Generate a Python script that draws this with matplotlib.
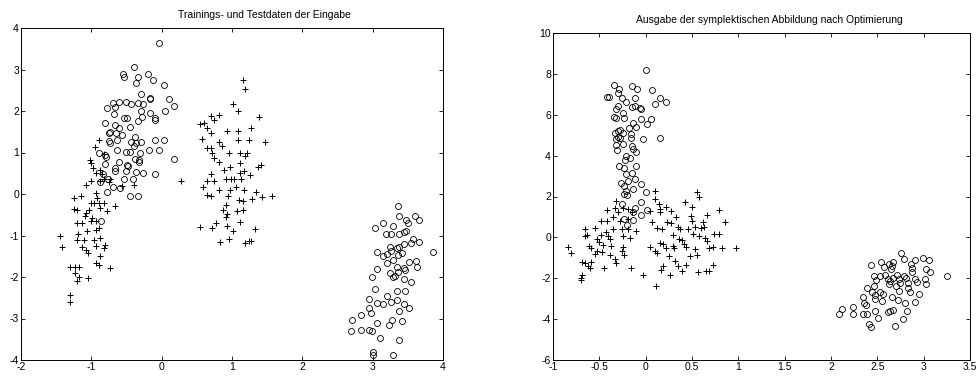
import matplotlib
matplotlib.use("Agg")
import matplotlib.pyplot as plt
import numpy as np

plt.rcParams['font.family'] = ['Liberation Sans', 'DejaVu Sans']
plt.rcParams['axes.unicode_minus'] = False

# left panel: input data, circles
in_circ_x = [-0.04, -0.40, -0.55, -0.53, -0.19, -0.13, -0.34, -0.36, 0.03, 0.11, 0.18, 0.05,
             -0.30, -0.16, -0.17, -0.69, -0.60, -0.50, -0.43, -0.34, -0.27, -0.78, -0.66,
             -0.10, -0.10, -0.16, -0.53, -0.49, -0.68, -0.30, -0.28, -0.34, -0.80, -0.66, -0.60, -0.45,
             -0.73, -0.75, -0.65, -0.57, -0.38, -0.43, -0.36, -0.29, -0.39, -0.09, 0.03, -0.75, -0.63, -0.73,
             -0.89, -0.64, -0.51, -0.45, -0.31, -0.18, -0.04, -0.81, -0.79, 0.18, -0.38, -0.32, -0.32,
             -0.61, -0.49, -0.48, -0.80, -0.66, -0.67, -0.51, -0.36, -0.26, -0.09, -0.83, -0.77, -0.54, -0.41,
             -0.69, -0.59, -0.78, -0.45, -0.34, -0.87, -0.86,
             3.36, 3.60, 3.66, 3.38, 3.48, 3.50, 3.04, 3.15, 3.29, 3.19, 3.26, 3.38, 3.45, 3.48,
             3.58, 3.66, 3.54, 3.45, 3.86, 3.24, 3.26, 3.35, 3.38, 3.06, 3.15, 3.20, 3.36, 3.41, 3.29,
             3.20, 3.61, 3.51, 3.34, 3.45, 3.63, 3.06, 3.36, 3.46, 3.24, 3.29, 3.32, 2.99, 3.45, 3.55,
             3.04, 3.20, 3.35, 3.46, 2.95, 3.06, 3.15, 3.26, 3.35, 3.45, 3.51, 2.95, 2.98, 3.38,
             2.83, 2.71, 3.06, 3.23, 3.27, 3.41, 2.69, 2.84, 2.95, 2.99, 3.11, 3.38, 3.00, 3.01, 3.29]
in_circ_y = [3.64, 3.05, 2.89, 2.83, 2.88, 2.75, 2.81, 2.67, 2.62, 2.29, 2.13, 2.00,
             2.41, 2.32, 2.29, 2.20, 2.22, 2.22, 2.17, 2.19, 2.17, 2.08, 2.10,
             1.79, 1.84, 1.95, 1.83, 1.82, 1.93, 1.99, 1.86, 1.77, 1.71, 1.67, 1.59, 1.61,
             1.49, 1.47, 1.47, 1.43, 1.38, 1.25, 1.23, 1.25, 1.15, 1.31, 1.29, 1.27, 1.29, 1.22,
             1.00, 1.06, 1.01, 1.02, 1.00, 1.05, 1.05, 0.95, 0.89, 0.85, 0.85, 0.81, 0.76,
             0.77, 0.69, 0.67, 0.72, 0.62, 0.55, 0.56, 0.53, 0.50, 0.49, 0.49, 0.35, 0.37, 0.37,
             0.16, 0.14, 0.04, -0.04, -0.04, 0.30, -0.65,
             -0.30, -0.54, -0.62, -0.54, -0.62, -0.69, -0.82, -0.69, -0.76, -0.96, -0.96, -0.96, -0.92, -0.88,
             -1.08, -1.16, -1.18, -1.20, -1.40, -1.27, -1.37, -1.31, -1.27, -1.40, -1.50, -1.44, -1.46, -1.42, -1.58,
             -1.66, -1.61, -1.63, -1.75, -1.79, -1.77, -1.81, -1.87, -1.84, -1.90, -2.01, -1.97, -2.01, -2.05, -2.13,
             -2.29, -2.45, -2.33, -2.33, -2.54, -2.62, -2.66, -2.60, -2.56, -2.64, -2.75, -2.75, -2.86, -2.82,
             -2.91, -3.03, -3.10, -3.15, -3.03, -3.07, -3.30, -3.27, -3.27, -3.31, -3.48, -3.53, -3.80, -3.88, -3.88]

# left panel: input data, plus markers
in_plus_x = [-1.44, -1.42, -1.30, -1.31, -1.30, -1.23, -1.17, -1.23, -1.20, -1.18, -1.05,
             -1.24, -1.15, -1.24, -1.21, -1.20, -1.13, -1.19, -1.21, -1.13, -1.08, -1.05, -1.10, -1.06,
             -1.08, -1.04, -1.01, -1.09, -1.07, -1.01, -0.94, -0.92, -0.96, -0.89, -0.99, -0.94, -1.01,
             -0.94, -0.89, -0.96, -0.88, -0.94, -0.87, -0.94, -0.89, -0.82, -0.80, -0.87, -0.82, -0.78,
             -0.73, -0.67, -1.02, -1.01, -0.95, -0.89, -0.97, -0.94, -0.87, -0.88, -0.82, -0.85, -0.75,
             -0.73, -0.82, -0.56, -0.40, 0.27,
             1.15, 1.18, 1.02, 1.09, 0.55, 0.60, 0.70, 0.75, 0.81, 1.39, 0.64, 0.70, 0.93, 1.09, 1.27,
             0.57, 0.81, 1.09, 1.24, 1.47, 0.64, 0.70, 0.86, 0.96, 0.72, 0.74, 0.81, 1.11, 1.22,
             1.18, 1.11, 1.41, 1.37, 0.89, 0.97, 1.11, 1.17, 1.25, 0.70, 0.91, 0.98, 1.03, 1.13,
             0.64, 0.74, 0.59, 0.81, 0.97, 1.06, 1.17, 0.64, 0.70, 0.95, 1.34, 1.10, 1.15, 1.28, 1.42, 1.57,
             0.91, 0.87, 1.07, 1.16, 0.93, 0.91, 0.55, 0.72, 0.77, 0.93, 1.12, 1.02, 1.33,
             0.83, 0.96, 1.18, 1.24, 1.27]
in_plus_y = [-1.00, -1.28, -2.43, -2.61, -1.75, -1.75, -1.75, -1.90, -2.09, -1.99, -2.03,
             -0.10, -0.04, -0.36, -0.39, -0.70, -0.70, -0.97, -1.10, -1.28, -1.36, -1.42, -1.10, -0.90,
             -0.45, -0.38, -0.22, -0.53, 0.22, 0.31, 0.02, -0.10, -0.22, -0.22, -0.58, -0.66, -0.66,
             -0.86, -0.82, -1.10, -1.06, -1.26, -1.50, -1.66, -1.72, -1.31, -1.22, -0.34, -0.22, -0.42,
             -1.78, -0.30, 0.83, 0.75, 1.14, 1.30, 0.63, 0.51, 0.59, 0.31, 0.96, 0.49, 0.28,
             0.37, 0.35, 0.20, 0.22, 0.32,
             2.75, 2.54, 2.18, 2.00, 1.69, 1.72, 1.87, 1.79, 1.91, 1.85, 1.59, 1.47, 1.51, 1.53, 1.59,
             1.32, 1.26, 1.29, 1.30, 1.25, 1.12, 1.11, 1.16, 0.98, 0.98, 0.86, 0.77, 0.98, 0.98,
             0.92, 0.74, 0.70, 0.64, 0.58, 0.66, 0.50, 0.55, 0.46, 0.49, 0.35, 0.35, 0.35, 0.35,
             0.31, 0.31, 0.18, 0.10, 0.10, 0.17, 0.09, -0.02, -0.06, -0.04, 0.04, -0.14, -0.17, -0.11, -0.08, -0.06,
             -0.26, -0.38, -0.42, -0.39, -0.48, -0.56, -0.80, -0.81, -0.71, -0.77, -0.67, -0.90, -0.84,
             -1.16, -1.08, -1.18, -1.13, -1.13]

# right panel: output of the symplectic map, circles
out_circ_x = [0.00, -0.34, -0.15, -0.09, -0.29, 0.07, -0.30, -0.42, -0.40, -0.25, -0.12, 0.15,
              0.22, 0.10, -0.21, -0.06, -0.05, -0.30, -0.32, -0.24, -0.15, -0.12,
              -0.34, -0.32, -0.23, -0.05, 0.06, -0.14, -0.10, 0.01, -0.18,
              -0.30, -0.28, -0.33, -0.24, -0.16, -0.30, -0.28, -0.16, 0.15, -0.03,
              -0.32, -0.24, -0.15, -0.14, -0.10, -0.32, -0.31,
              -0.21, -0.17, -0.22, -0.29, -0.10, -0.23, -0.15, -0.21, -0.12, -0.27, -0.19, -0.05,
              -0.23, -0.14, 0.00, -0.21, -0.23, -0.20, -0.05, 0.01, -0.26, -0.12, -0.14, -0.05,
              -0.23, -0.14, -0.20,
              2.09, 2.12, 2.24, 2.24, 2.35, 2.39, 2.41, 2.43, 2.48, 2.51,
              2.35, 2.36, 2.38, 2.39, 2.44, 2.43, 2.46, 2.46, 2.47, 2.48,
              2.54, 2.57, 2.53, 2.56, 2.55, 2.58, 2.61, 2.63, 2.66,
              2.63, 2.66, 2.67, 2.65, 2.62, 2.64, 2.67, 2.69,
              2.71, 2.73, 2.75, 2.73, 2.72, 2.76, 2.79, 2.79, 2.81, 2.83,
              2.83, 2.85, 2.80, 2.78, 2.82, 2.86, 2.87, 2.87, 2.91,
              2.91, 2.93, 2.95, 2.91, 2.99, 3.02, 3.01, 3.02, 3.06, 3.07,
              3.25, 2.64, 2.70, 2.67, 2.53, 2.49]
out_circ_y = [8.21, 7.45, 7.40, 7.28, 7.27, 7.19, 7.07, 6.86, 6.86, 6.80, 6.83, 6.83,
              6.63, 6.54, 6.63, 6.33, 6.30, 6.42, 6.26, 6.10, 6.37, 6.42,
              5.90, 5.84, 5.82, 5.81, 5.81, 5.58, 5.41, 5.53, 5.33,
              5.20, 5.24, 5.09, 5.12, 5.04, 4.91, 4.88, 4.88, 4.88, 4.80,
              4.80, 4.55, 4.47, 4.31, 4.18, 4.52, 4.28,
              3.98, 3.90, 3.77, 3.50, 3.50, 3.41, 3.17, 3.09, 2.85, 2.68, 2.76, 2.60,
              2.52, 2.36, 2.20, 2.28, 2.12, 2.07, 1.71, 1.35, 1.63, 1.46, 1.22, 1.09,
              0.89, 0.86, 0.60,
              -3.77, -3.50, -3.41, -3.74, -3.74, -3.74, -4.23, -4.39, -3.58, -3.95,
              -2.93, -3.20, -3.30, -2.49, -2.68, -1.33, -1.87, -2.36, -2.81, -3.01,
              -1.19, -1.43, -2.68, -2.76, -3.09, -1.82, -2.03, -2.26, -2.93,
              -1.30, -1.38, -1.22, -1.54, -3.66, -3.61, -3.54, -4.36,
              -1.82, -2.03, -2.23, -2.63, -3.06, -0.76, -1.06, -1.87, -2.00, -2.24,
              -2.49, -2.68, -3.20, -3.98, -3.58, -1.30, -1.51, -1.71, -1.09,
              -2.04, -2.20, -2.76, -3.18, -1.02, -1.54, -2.03, -2.28, -1.11, -1.67,
              -1.90, -2.14, -2.38, -1.98, -1.87, -2.07]

# right panel: output of the symplectic map, plus markers
out_plus_x = [-0.84, -0.81, -0.70, -0.70, -0.69, -0.65, -0.63, -0.65, -0.55,
              -0.69, -0.65, -0.62, -0.59, -0.60, -0.61, -0.59, -0.53, -0.55,
              -0.52, -0.50, -0.46, -0.47, -0.45, -0.48, -0.43, -0.48, -0.42, -0.42,
              -0.41, -0.39, -0.37, -0.39, -0.33, -0.32, -0.35, -0.35, -0.32, -0.33, -0.30,
              -0.28, -0.26, -0.24, -0.24, -0.23, -0.26, -0.24, -0.19, -0.15, -0.19, -0.19,
              -0.17, -0.16, -0.10, -0.03, 0.10, 0.11,
              0.05, 0.10, 0.14, 0.16, 0.16, 0.05, 0.10, 0.12, 0.15, 0.07,
              0.12, 0.18, 0.22, 0.27, 0.23, 0.27, 0.33, 0.35, 0.37,
              0.19, 0.22, 0.25, 0.30, 0.31, 0.19, 0.17, 0.26,
              0.30, 0.36, 0.39, 0.41, 0.32, 0.35, 0.39, 0.44,
              0.42, 0.50, 0.49, 0.50, 0.55, 0.58, 0.46, 0.51, 0.53, 0.44, 0.48,
              0.53, 0.55, 0.57, 0.58, 0.60, 0.62, 0.66, 0.63,
              0.64, 0.66, 0.65, 0.68, 0.68, 0.74, 0.73, 0.82, 0.73,
              0.79, 0.86, 0.79, 0.97]
out_plus_y = [-0.46, -0.77, -2.00, -2.08, -1.85, 0.41, 0.13, 0.08, 0.44,
              -1.22, -1.27, -1.41, -1.22, -1.51, -0.41, -0.54, -0.66, -0.81,
              -0.08, -0.24, -0.37, -0.73, -1.51, 0.13, 0.24, 0.81, 0.81, 1.33,
              0.08, -0.08, -0.41, -0.86, -1.06, -1.27, 0.98, 0.41, 1.79, 1.46, 1.22,
              0.81, 0.41, 0.08, -0.49, -0.86, -0.65, 1.46, 1.37, 1.22, 0.89, 0.41,
              -0.05, -1.51, 0.33, -1.84, 2.26, -2.39,
              1.30, 1.87, 1.63, 1.41, 1.22, -0.49, -0.68, -0.77, -0.29, 0.76,
              0.44, 0.41, 1.51, 1.30, 0.76, 0.68, 0.98, 0.49, 0.41,
              -0.33, -0.54, -0.89, -0.41, -0.54, -1.38, -1.58, -1.84,
              0.11, -0.08, -0.11, -0.33, -1.14, -1.38, -1.63, -1.33,
              1.74, 1.51, 1.06, 0.81, 2.20, 1.97, 0.41, 0.16, 0.49, -0.49, -0.89,
              -0.57, -0.86, -1.67, 0.08, 0.44, 0.76, 1.09, 0.49,
              -0.05, -0.16, -1.63, -1.63, -0.54, 0.16, -0.49, -0.54, -1.33,
              1.35, 0.76, 0.16, -0.54]


def style_axes(ax):
    ax.tick_params(direction='in', top=True, right=True, length=3, width=0.6,
                   labelsize=7.5, pad=1.5)
    for s in ax.spines.values():
        s.set_linewidth(0.7)


fig = plt.figure(figsize=(9.78, 3.8), dpi=100)

ax1 = fig.add_axes([21/978, 20/380, 422/978, 332/380])
ax1.plot(in_circ_x, in_circ_y, 'o', mfc='none', mec='k', ms=4.3, mew=0.6)
ax1.plot(in_plus_x, in_plus_y, '+', color='k', ms=4.6, mew=0.7)
ax1.set_xlim(-2, 4)
ax1.set_ylim(-4, 4)
ax1.set_xticks(np.arange(-2, 5, 1))
ax1.set_yticks(np.arange(-4, 5, 1))
ax1.set_title('Trainings- und Testdaten der Eingabe', fontsize=7.5, x=0.578, pad=7)
style_axes(ax1)

ax2 = fig.add_axes([553/978, 20/380, 417/978, 327/380])
ax2.plot(out_circ_x, out_circ_y, 'o', mfc='none', mec='k', ms=4.3, mew=0.6)
ax2.plot(out_plus_x, out_plus_y, '+', color='k', ms=4.6, mew=0.7)
ax2.set_xlim(-1, 3.5)
ax2.set_ylim(-6, 10)
ax2.set_xticks(np.arange(-1, 3.6, 0.5))
ax2.set_xticklabels(['-1', '-0.5', '0', '0.5', '1', '1.5', '2', '2.5', '3', '3.5'])
ax2.set_yticks(np.arange(-6, 11, 2))
ax2.set_title('Ausgabe der symplektischen Abbildung nach Optimierung', fontsize=7.5, x=0.52, pad=7)
style_axes(ax2)

fig.savefig('out.png', dpi=100)
